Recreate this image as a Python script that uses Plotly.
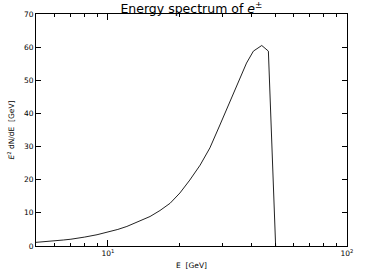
import plotly.graph_objects as go

energy = [5, 5.5, 6, 6.5, 7, 7.5, 8, 9, 10, 11, 12, 13, 14, 15, 16.5, 18.2, 20, 22, 24.3,
          26.7, 29.4, 32.4, 35.7, 38, 40.6, 44, 46.9, 50.3]
spectrum = [1.1, 1.3, 1.55, 1.8, 2.05, 2.35, 2.7, 3.4, 4.2, 5.0, 5.9, 6.9, 7.9, 8.9, 10.7,
            12.9, 16.0, 19.9, 24.4, 29.6, 36.5, 43.7, 50.9, 55.2, 58.8, 60.5, 58.8, 0.0]

x_major = [10, 100]
x_major_text = ["10<sup>1</sup>", "10<sup>2</sup>"]
x_minor = [5, 6, 7, 8, 9, 20, 30, 40, 50, 60, 70, 80, 90]
y_ticks = [0, 10, 20, 30, 40, 50, 60, 70]

fig = go.Figure()
fig.add_trace(go.Scatter(x=energy, y=spectrum, mode="lines",
                         line=dict(color="#222222", width=1), showlegend=False))

font = "DejaVu Sans, Liberation Sans, sans-serif"
fig.update_layout(
    width=366, height=274,
    margin=dict(l=36, r=19, t=14, b=28),
    paper_bgcolor="white", plot_bgcolor="white",
    font=dict(family=font, size=7.5, color="black"),
    title=dict(text="Energy spectrum of <i>e</i><sup>±</sup>", x=0.523, xanchor="center",
               y=0.985, yanchor="top", pad=dict(t=0, b=0),
               font=dict(size=12.5, family=font)),
)
fig.update_xaxes(
    type="log", range=[0.69897, 2.0001],
    tickmode="array", tickvals=x_major, ticktext=x_major_text,
    ticks="inside", ticklen=6, tickcolor="black", tickwidth=1,
    showline=True, linecolor="black", linewidth=1, mirror="ticks",
    showgrid=False, zeroline=False, automargin=False,
    minor=dict(tickmode="array", tickvals=x_minor, ticks="inside", ticklen=3,
               tickcolor="black", showgrid=False),
    title=dict(text="E&nbsp; [GeV]", font=dict(size=7.5), standoff=5),
    tickfont=dict(size=7.5),
)
fig.update_yaxes(
    range=[0, 70], tickmode="array", tickvals=y_ticks,
    ticks="inside", ticklen=5, tickcolor="black", tickwidth=1,
    showline=True, linecolor="black", linewidth=1, mirror="ticks",
    showgrid=False, zeroline=False, automargin=False,
    title=dict(text="<i>E</i><sup>2</sup> dN/dE&nbsp; [GeV]", font=dict(size=7.5), standoff=8),
    tickfont=dict(size=7.5),
)

fig.write_html("out.html", config={"displayModeBar": False},
               post_script="document.body.style.margin='0';document.body.style.padding='0';")
